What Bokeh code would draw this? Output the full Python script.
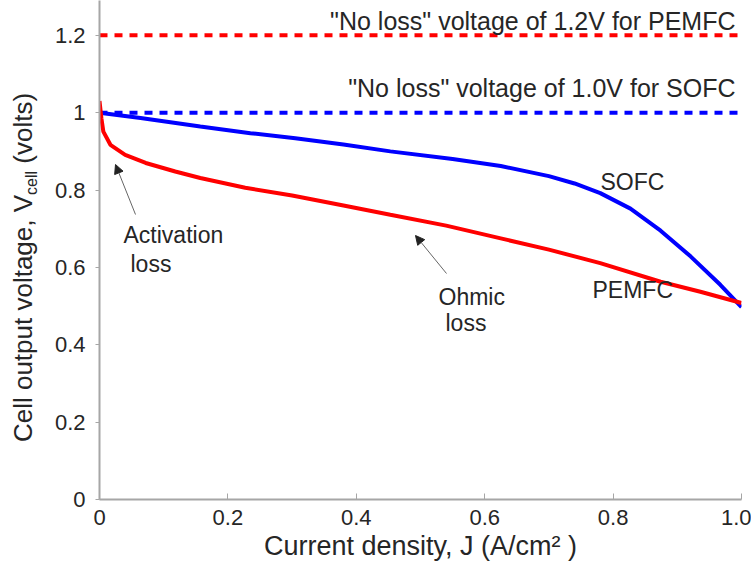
import math
from bokeh.plotting import figure
from bokeh.layouts import row
from bokeh.models import Range1d, Label, Arrow, NormalHead, FixedTicker
from bokeh.embed import file_html
from bokeh.resources import INLINE

# ---- data ----
pem_x = [0.0, 0.003, 0.006, 0.017, 0.040, 0.072, 0.118, 0.157, 0.227, 0.300,
         0.380, 0.453, 0.540, 0.625, 0.700, 0.780, 0.874, 0.936, 1.000]
pem_y = [1.030, 0.985, 0.951, 0.917, 0.891, 0.870, 0.848, 0.831, 0.806, 0.786,
         0.760, 0.736, 0.708, 0.675, 0.646, 0.611, 0.563, 0.537, 0.508]

sofc_x = [0.0, 0.064, 0.157, 0.235, 0.305, 0.380, 0.453, 0.550, 0.625, 0.700,
          0.740, 0.780, 0.827, 0.874, 0.921, 0.967, 1.000]
sofc_y = [1.000, 0.986, 0.964, 0.947, 0.934, 0.918, 0.900, 0.880, 0.862, 0.836,
          0.817, 0.792, 0.752, 0.695, 0.628, 0.555, 0.497]

no_loss_x = [0.0, 1.0]
pemfc_no_loss = 1.2
sofc_no_loss = 1.0

x_ticks = [0, 0.2, 0.4, 0.6, 0.8, 1.0]
x_tick_labels = ["0", "0.2", "0.4", "0.6", "0.8", "1.0"]
y_ticks = [0, 0.2, 0.4, 0.6, 0.8, 1.0, 1.2]
y_tick_labels = ["0", "0.2", "0.4", "0.6", "0.8", "1", "1.2"]

FONT = "Liberation Sans"
TXT = "#262626"
BASEFIX = 0.38  # empirical baseline correction (fraction of font size)

W, H = 751, 566
YLW = 45                      # width of the y-label strip
BL, BR, BT, BB = 99, 10, 0, 67
FW, FH = W - BL - BR, H - BT - BB
YMAX = 1.29

# ---------------- main figure ----------------
p = figure(frame_width=FW, frame_height=FH, output_backend="svg",
           toolbar_location=None,
           x_range=Range1d(0, 1.0), y_range=Range1d(0, YMAX),
           min_border_left=BL - YLW, min_border_right=BR, min_border_top=BT,
           min_border_bottom=BB, title=None)
p.outline_line_color = None
p.grid.visible = False
p.background_fill_color = "white"
p.border_fill_color = "white"

def dx(px):
    return (px - BL) / FW

def dy(py):
    return (BT + FH - py) / FH * YMAX

for ax in (p.xaxis[0], p.yaxis[0]):
    ax.axis_line_color = "#a6a6a6"
    ax.axis_line_width = 2
    ax.major_tick_line_color = "#a6a6a6"
    ax.major_tick_line_width = 1
    ax.minor_tick_line_color = None
    ax.major_label_text_font = FONT
    ax.major_label_text_font_size = "22px"
    ax.major_label_text_color = TXT

p.xaxis.ticker = FixedTicker(ticks=x_ticks)
p.xaxis.major_label_overrides = {t: l for t, l in zip(x_ticks, x_tick_labels)}
p.xaxis.major_tick_in = 6
p.xaxis.major_tick_out = 0
p.xaxis.major_label_standoff = 10
p.xaxis.axis_label = "Current density, J (A/cm\u00b2 )"
p.xaxis.axis_label_text_font = FONT
p.xaxis.axis_label_text_font_size = "27px"
p.xaxis.axis_label_text_font_style = "normal"
p.xaxis.axis_label_text_color = TXT
p.xaxis.axis_label_standoff = 3

p.yaxis.ticker = FixedTicker(ticks=y_ticks)
p.yaxis.major_label_overrides = {t: l for t, l in zip(y_ticks, y_tick_labels)}
p.yaxis.major_tick_in = 0
p.yaxis.major_tick_out = 4
p.yaxis.major_label_standoff = 10

# no-loss lines
p.line(no_loss_x, [pemfc_no_loss] * len(no_loss_x), line_color="#ff0000",
       line_width=4, line_dash="8 7")
p.line(no_loss_x, [sofc_no_loss] * len(no_loss_x), line_color="#0000ff",
       line_width=4, line_dash="8 7")

# curves
p.line(sofc_x, sofc_y, line_color="#0000ff", line_width=4)
p.line(pem_x, pem_y, line_color="#ff0000", line_width=4)

def lab(fig, x, y, text, size, align="left", baseline="alphabetic", angle=0.0):
    fig.add_layout(Label(x=x, y=y, text=text, text_font=FONT,
                         text_font_size=f"{size}px", text_color=TXT,
                         text_align=align, text_baseline=baseline,
                         angle=angle))

def mlab(px, py, text, size, align="left"):
    lab(p, dx(px), dy(py - BASEFIX * size), text, size, align=align)

mlab(735, 30, '"No loss" voltage of 1.2V for PEMFC', 25, align="right")
mlab(735, 97, '"No loss" voltage of 1.0V for SOFC', 25, align="right")
mlab(600, 190, "SOFC", 23)
mlab(592, 298, "PEMFC", 23)
mlab(123, 243, "Activation", 23)
mlab(130, 272, "loss", 23)
mlab(438, 305, "Ohmic", 23)
mlab(445, 331, "loss", 23)

for (xs, ys, xe, ye) in [(dx(135), dy(214), dx(115), dy(164)),
                         (dx(446), dy(273), dx(415), dy(235))]:
    p.add_layout(Arrow(end=NormalHead(size=9, fill_color="#222222",
                                      line_color="#222222", line_width=1),
                       x_start=xs, y_start=ys, x_end=xe, y_end=ye,
                       line_color="#666666", line_width=1))

# ---------------- y-label strip (frame aligned with the main frame) ----------------
yl = figure(frame_width=YLW, frame_height=FH, output_backend="svg",
            toolbar_location=None,
            x_range=Range1d(0, YLW), y_range=p.y_range,
            x_axis_location=None, y_axis_location=None,
            min_border_left=0, min_border_right=0, min_border_top=BT,
            min_border_bottom=0, title=None)
yl.outline_line_color = None
yl.grid.visible = False
yl.background_fill_color = "white"
yl.border_fill_color = "white"

AX = 26
SUB = 16
a1 = 9.505 * AX   # "Cell output voltage, V"
a2 = 1.5 * SUB    # "cell"
gap = 0.278 * AX  # space before "(volts)"
a3 = 2.722 * AX   # "(volts)"
ytot = a1 + a2 + gap + a3
start_py = 267 + ytot / 2
main_cx = 22
sub_cx = 30.5
rot = math.pi / 2
lab(yl, main_cx, dy(start_py - a1 / 2), "Cell output voltage, V", AX,
    align="center", baseline="middle", angle=rot)
lab(yl, sub_cx, dy(start_py - a1 - a2 / 2), "cell", SUB,
    align="center", baseline="middle", angle=rot)
lab(yl, main_cx, dy(start_py - a1 - a2 - gap - a3 / 2), "(volts)", AX,
    align="center", baseline="middle", angle=rot)

layout = row(yl, p)
open("out.html", "w").write(file_html(layout, INLINE))
